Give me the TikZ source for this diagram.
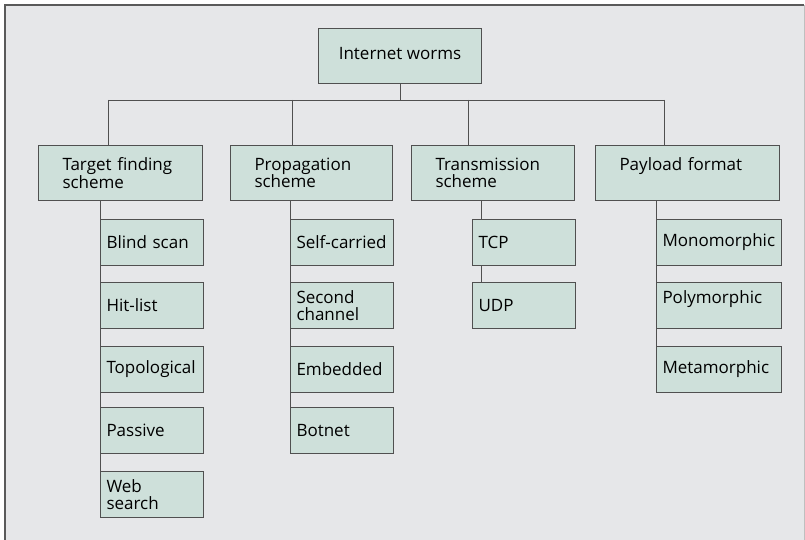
\documentclass[tikz,border=0pt]{standalone}
\usepackage{fontspec}
\setmainfont{Open Sans}
\pgfdeclarelayer{bg}
\pgfsetlayers{bg,main}
\definecolor{bgc}{HTML}{E6E7E9}
\definecolor{boxc}{HTML}{CEE0DA}
\definecolor{linec}{HTML}{505050}
\definecolor{framec}{HTML}{5A5A5A}
\begin{document}
\begin{tikzpicture}[x=1pt,y=-1pt,
  box/.style={draw=linec, fill=boxc, line width=1pt, rectangle, anchor=north west,
    align=left, inner ysep=0pt, font=\fontsize{17}{17.5}\selectfont},
  cat/.style={box, inner xsep=24pt, minimum height=55pt},
  sub/.style={box, inner xsep=6pt, minimum height=46pt},
  conn/.style={draw=linec, line width=0.9pt}]
\useasboundingbox (0,0) rectangle (805,540);
% nodes
\node[box, align=center, minimum width=163pt, minimum height=55pt, text depth=5pt] (top) at (318,28) {Internet worms};
\node[cat, text width=116pt] (tf) at (38,145) {Target finding\\scheme};
\node[cat, text width=114pt] (prop) at (230,145) {Propagation\\scheme};
\node[cat, text width=115pt] (trans) at (411,145) {Transmission\\scheme};
\node[cat, text width=136pt] (pay) at (595,145) {Payload format\\\mbox{}};
\node[sub, text width=91pt] (blind) at (100,219) {Blind scan};
\node[sub, text width=91pt] (hit) at (100,282) {Hit-list};
\node[sub, text width=91pt] (topo) at (100,346) {Topological};
\node[sub, text width=91pt] (pass) at (100,407) {Passive};
\node[sub, text width=91pt] (web) at (100,471) {Web\\search};
\node[sub, text width=91pt] (self) at (290,219) {Self-carried};
\node[sub, text width=91pt] (second) at (290,282) {Second\\channel};
\node[sub, text width=91pt] (emb) at (290,346) {Embedded};
\node[sub, text width=91pt] (bot) at (290,407) {Botnet};
\node[sub, text width=91pt] (tcp) at (472,219) {TCP};
\node[sub, text width=91pt] (udp) at (472,282) {UDP};
\node[sub, text width=113pt] (mono) at (656,219) {Monomorphic};
\node[sub, text width=113pt] (poly) at (656,282) {Polymorphic\\\mbox{}};
\node[sub, text width=113pt] (meta) at (656,346) {Metamorphic};
% background and connectors
\begin{pgfonlayer}{bg}
  \fill[white] (0,0) rectangle (805,540);
  \fill[bgc] (5,5) rectangle (804,540);
  \draw[framec, line width=1.6pt] (5,540) -- (5,5) -- (804,5);
  \draw[black!25, line width=0.8pt] (804,5) -- (804,540);
  \coordinate (j1) at (108,100);
  \coordinate (j2) at (292,100);
  \coordinate (j3) at (468,100);
  \coordinate (j4) at (664,100);
  \draw[conn] (j1) -- (j4);
  \draw[conn] (top.south) -- (top.south |- j1);
  \draw[conn] (j1) -- (j1 |- tf.north);
  \draw[conn] (j2) -- (j2 |- prop.north);
  \draw[conn] (j3) -- (j3 |- trans.north);
  \draw[conn] (j4) -- (j4 |- pay.north);
  \draw[conn] (blind.west |- tf.south) -- (web.south west);
  \draw[conn] (self.west |- prop.south) -- (bot.south west);
  \draw[conn] ([xshift=70pt]trans.south west) -- ([xshift=70pt]trans.south west |- udp.north);
  \draw[conn] (mono.west |- pay.south) -- (meta.south west);
\end{pgfonlayer}
\end{tikzpicture}
\end{document}
